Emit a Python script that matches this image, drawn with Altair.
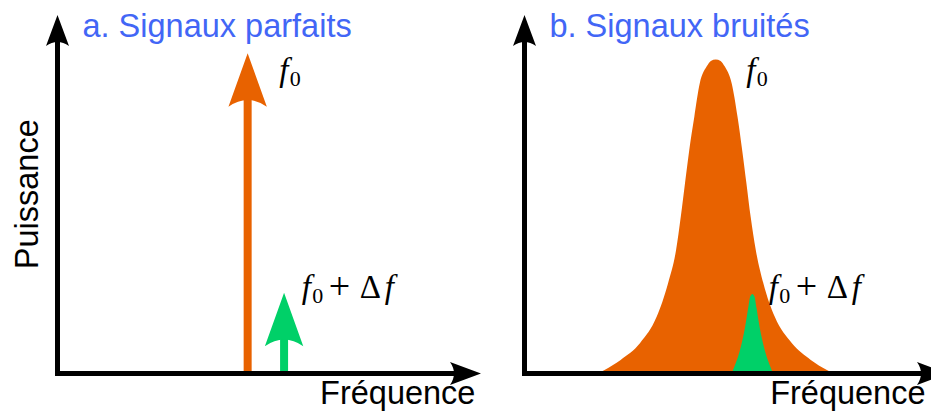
import altair as alt
import pandas as pd

# ---------------- data (frequency / power units) ----------------
panels = ["a", "b"]
panel_titles = ["a. Signaux parfaits", "b. Signaux bruités"]
y_title = "Puissance"
x_title = "Fréquence"
axis_length = 10.0

# panel a : perfect signals, drawn as arrows
perfect_kind = ["f0", "df"]
perfect_freq = [4.49, 5.35]
perfect_power = [8.93, 2.25]

# panel b : noisy signals, drawn as filled peaks
noisy_f0_freq = [1.73, 1.89, 2.27, 2.73, 3.12, 3.39, 3.58, 3.69, 3.79, 3.89, 4.01, 4.14, 4.30, 4.40,
                 4.515,
                 4.63, 4.73, 4.89, 5.03, 5.14, 5.24, 5.34, 5.46, 5.64, 5.91, 6.31, 6.76, 7.14, 7.30]
noisy_f0_power = [0.0, 0.10, 0.38, 0.85, 1.58, 2.52, 3.45, 4.37, 5.31, 6.23, 7.16, 8.10, 8.56, 8.72,
                  8.76,
                  8.72, 8.56, 8.10, 7.16, 6.23, 5.31, 4.37, 3.45, 2.52, 1.58, 0.85, 0.38, 0.10, 0.0]
noisy_df_freq = [4.89, 5.01, 5.08, 5.13, 5.18, 5.23, 5.28, 5.33, 5.38, 5.43, 5.48, 5.53, 5.58,
                 5.63, 5.68, 5.75, 5.87]
noisy_df_power = [0.0, 0.36, 0.62, 0.85, 1.12, 1.45, 1.82, 2.15, 2.22, 2.15, 1.82, 1.45, 1.12,
                  0.85, 0.62, 0.36, 0.0]

# label anchors (panel-local frequency, power at text baseline)
label_kind = ["f0", "df"]
label_freq = [5.19, 5.72]
label_power = [8.15, 2.10]

title_freq = 0.59
title_power = 9.38
ytitle_freq = -0.47
ytitle_power = 5.0
xtitle_freq = [6.2, 5.8]
xtitle_power = -0.85

# ---------------- layout ----------------
W, H = 923, 403
PX_PER_F = 42.35
PX_PER_P = 35.85
ORIGIN_X = 49.5
ORIGIN_Y = 365.5
PANEL_B_SHIFT = 467 / PX_PER_F

ORANGE = "#E86200"
GREEN = "#00D068"
BLUE = "#4266F6"

shift = {"a": 0.0, "b": PANEL_B_SHIFT}

xs = alt.Scale(domain=[-ORIGIN_X / PX_PER_F, (W - ORIGIN_X) / PX_PER_F], nice=False, zero=False)
ys = alt.Scale(domain=[(ORIGIN_Y - H) / PX_PER_P, ORIGIN_Y / PX_PER_P], nice=False, zero=False)
cs = alt.Scale(domain=["f0", "df"], range=[ORANGE, GREEN])


def X(field):
    return alt.X(f"{field}:Q", scale=xs, axis=None)


def Y(field):
    return alt.Y(f"{field}:Q", scale=ys, axis=None)


axes_df = pd.DataFrame({
    "x0": [shift[p] for p in panels],
    "xt": [shift[p] + axis_length for p in panels],
    "y0": [0.0, 0.0],
    "yt": [axis_length, axis_length],
})

arrows_df = pd.DataFrame({
    "kind": perfect_kind,
    "gx": [f + shift["a"] for f in perfect_freq],
    "P": perfect_power,
    "base": [0.0] * len(perfect_freq),
})

orange_df = pd.DataFrame({"gx": [f + shift["b"] for f in noisy_f0_freq], "P": noisy_f0_power})
green_df = pd.DataFrame({"gx": [f + shift["b"] for f in noisy_df_freq], "P": noisy_df_power})

labels_df = pd.DataFrame([
    {"kind": k, "gx": f + shift[p], "P": pw}
    for p in panels for k, f, pw in zip(label_kind, label_freq, label_power)
])

titles_df = pd.DataFrame({
    "gx": [title_freq + shift[p] for p in panels],
    "P": [title_power] * 2,
    "text": panel_titles,
})
xt_df = pd.DataFrame({
    "gx": [f + shift[p] for p, f in zip(panels, xtitle_freq)],
    "P": [xtitle_power] * 2,
    "text": [x_title] * 2,
})
yt_df = pd.DataFrame({"gx": [ytitle_freq], "P": [ytitle_power], "text": [y_title]})

HEAD = "M0,0 L19.2,53.4 Q0,40 -19.2,53.4 Z"
AXIS_HEAD = "M0,0 L11.5,31 Q0,23 -11.5,31 Z"

orange_area = alt.Chart(orange_df).mark_area(color=ORANGE, interpolate="monotone").encode(
    x=X("gx"), y=Y("P"), y2=alt.datum(0))
green_area = alt.Chart(green_df).mark_area(color=GREEN, interpolate="monotone").encode(
    x=X("gx"), y=Y("P"), y2=alt.datum(0))

shafts = alt.Chart(arrows_df).mark_rule(strokeWidth=8, y2Offset=44).encode(
    x=X("gx"), y=Y("base"), y2="P:Q", color=alt.Color("kind:N", scale=cs, legend=None))
heads = alt.Chart(arrows_df).mark_point(shape=HEAD, size=4, filled=True, opacity=1, strokeWidth=0).encode(
    x=X("gx"), y=Y("P"), color=alt.Color("kind:N", scale=cs, legend=None))

x_axis = alt.Chart(axes_df).mark_rule(color="black", strokeWidth=5, xOffset=-2.5, x2Offset=-16).encode(
    x=X("x0"), x2="xt:Q", y=Y("y0"))
y_axis = alt.Chart(axes_df).mark_rule(color="black", strokeWidth=5, yOffset=2.5, y2Offset=16).encode(
    x=X("x0"), y=Y("y0"), y2="yt:Q")
x_heads = alt.Chart(axes_df).mark_point(shape=AXIS_HEAD, size=4, angle=90, filled=True, opacity=1,
                                        strokeWidth=0, color="black").encode(x=X("xt"), y=Y("y0"))
y_heads = alt.Chart(axes_df).mark_point(shape=AXIS_HEAD, size=4, filled=True, opacity=1,
                                        strokeWidth=0, color="black").encode(x=X("x0"), y=Y("yt"))

sans = dict(font="Liberation Sans", fontSize=32.5, align="left", baseline="alphabetic")
titles = alt.Chart(titles_df).mark_text(color=BLUE, **sans).encode(x=X("gx"), y=Y("P"), text="text:N")
xtitles = alt.Chart(xt_df).mark_text(color="black", **sans).encode(x=X("gx"), y=Y("P"), text="text:N")
ytitle = alt.Chart(yt_df).mark_text(color="black", font="Liberation Sans", fontSize=32.5, align="center",
                                    baseline="alphabetic", angle=270).encode(x=X("gx"), y=Y("P"), text="text:N")

serif = dict(font="Liberation Serif", color="black", align="left", baseline="alphabetic")
lab_f = alt.Chart(labels_df).mark_text(fontSize=33, fontStyle="italic", dx=2, **serif).encode(
    x=X("gx"), y=Y("P"), text=alt.value("f"))
lab_0 = alt.Chart(labels_df).mark_text(fontSize=22, dx=12.5, dy=5, **serif).encode(
    x=X("gx"), y=Y("P"), text=alt.value("0"))
df_only = labels_df[labels_df["kind"] == "df"]
lab_plus = alt.Chart(df_only).mark_text(fontSize=38, dx=29, dy=1, **serif).encode(
    x=X("gx"), y=Y("P"), text=alt.value("+"))
lab_delta = alt.Chart(df_only).mark_text(fontSize=33, dx=60, **serif).encode(
    x=X("gx"), y=Y("P"), text=alt.value("Δ"))
lab_f2 = alt.Chart(df_only).mark_text(fontSize=33, fontStyle="italic", dx=85, **serif).encode(
    x=X("gx"), y=Y("P"), text=alt.value("f"))

chart = alt.layer(
    orange_area, green_area, shafts, heads, x_axis, y_axis, x_heads, y_heads,
    titles, xtitles, ytitle, lab_f, lab_0, lab_plus, lab_delta, lab_f2,
).properties(
    width=W, height=H, autosize=alt.AutoSizeParams(type="none"), padding=0, background="white"
).configure_view(stroke=None)

chart.save("out.html", embed_options={"renderer": "svg", "actions": False})
